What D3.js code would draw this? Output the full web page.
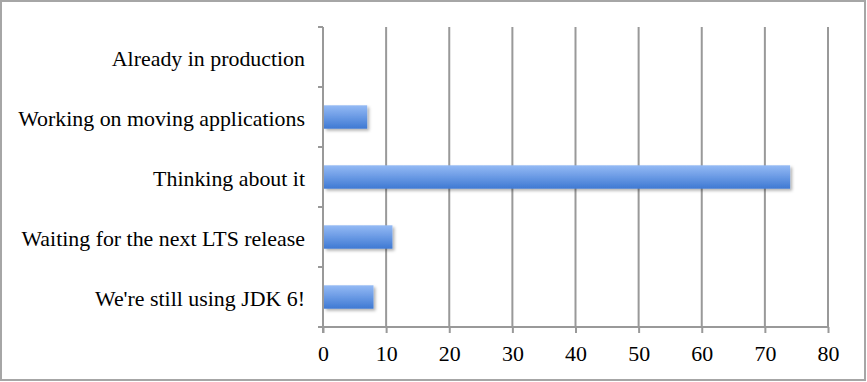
<!DOCTYPE html>
<html>
<head>
<meta charset="utf-8">
<script src="https://cdn.jsdelivr.net/npm/d3@7"></script>
<style>
  html, body { margin: 0; padding: 0; background: #fff; }
  svg { display: block; }
</style>
</head>
<body>
<svg id="chart" width="867" height="382"></svg>
<script>
const categories = [
  "Already in production",
  "Working on moving applications",
  "Thinking about it",
  "Waiting for the next LTS release",
  "We're still using JDK 6!"
];
const values = [0, 7, 74, 11, 8];
const xTicks = [0, 10, 20, 30, 40, 50, 60, 70, 80];

const W = 867, H = 382;
const margin = { left: 323, right: 39, top: 27, bottom: 55 };
const svg = d3.select("#chart");
const fontFamily = "'Liberation Serif', 'Times New Roman', serif";

const defs = svg.append("defs");
const grad = defs.append("linearGradient").attr("id", "barGrad")
  .attr("x1", 0).attr("y1", 0).attr("x2", 0).attr("y2", 1);
grad.append("stop").attr("offset", "0%").attr("stop-color", "#94baf5");
grad.append("stop").attr("offset", "100%").attr("stop-color", "#3f79d3");
const filt = defs.append("filter").attr("id", "shadow")
  .attr("x", "-10%").attr("y", "-30%").attr("width", "130%").attr("height", "180%");
filt.append("feDropShadow").attr("dx", 2).attr("dy", 2).attr("stdDeviation", 1.5)
  .attr("flood-color", "#000").attr("flood-opacity", 0.3);

// outer border
svg.append("rect").attr("x", 1).attr("y", 1).attr("width", W - 3).attr("height", H - 3)
  .attr("fill", "#fff").attr("stroke", "#a6a6a6").attr("stroke-width", 2);

const x = d3.scaleLinear().domain([0, 80]).range([margin.left, W - margin.right]);
const y = d3.scaleBand().domain(categories).range([margin.top, H - margin.bottom]).paddingInner(0).paddingOuter(0);

// gridlines
svg.append("g").selectAll("line").data(xTicks.slice(1)).join("line")
  .attr("x1", d => x(d)).attr("x2", d => x(d))
  .attr("y1", margin.top).attr("y2", H - margin.bottom)
  .attr("stroke", "#999").attr("stroke-width", 2);

// bars
const barH = y.bandwidth() * 0.39;
svg.append("g").selectAll("rect").data(categories).join("rect")
  .attr("x", x(0) + 1)
  .attr("y", d => y(d) + (y.bandwidth() - barH) / 2)
  .attr("width", (d, i) => Math.max(0, x(values[i]) - x(0) - 1))
  .attr("height", barH)
  .attr("fill", "url(#barGrad)")
  .attr("filter", "url(#shadow)");

// x axis
const xAxis = d3.axisBottom(x).tickValues(xTicks).tickSize(6).tickPadding(8).tickFormat(d3.format("d"));
const gx = svg.append("g").attr("transform", `translate(0,${H - margin.bottom})`).call(xAxis);
gx.select(".domain").attr("stroke", "#999").attr("stroke-width", 2)
  .attr("d", `M${x(0)},0H${x(80)}`);
gx.selectAll(".tick line").attr("stroke", "#999").attr("stroke-width", 2);
gx.selectAll(".tick text").attr("fill", "#000").attr("font-family", fontFamily).attr("font-size", 19).attr("dy", "0.9em");

// y axis
const yAxis = d3.axisLeft(y).tickSize(0).tickPadding(18);
const gy = svg.append("g").attr("transform", `translate(${margin.left},0)`).call(yAxis);
gy.select(".domain").remove();
gy.selectAll(".tick text").attr("fill", "#000").attr("font-family", fontFamily).attr("font-size", 19).attr("dy", "0.4em");
// category boundary ticks
const bounds = categories.map(c => y(c)).concat([H - margin.bottom]);
svg.append("g").selectAll("line").data(bounds).join("line")
  .attr("x1", margin.left - 5).attr("x2", margin.left)
  .attr("y1", d => d).attr("y2", d => d)
  .attr("stroke", "#999").attr("stroke-width", 2);
svg.append("line").attr("x1", margin.left).attr("x2", margin.left)
  .attr("y1", margin.top).attr("y2", H - margin.bottom + 6)
  .attr("stroke", "#999").attr("stroke-width", 2);

// fit label font width to reference (Cambria-like width)
const longest = gy.selectAll(".tick text").filter(d => d === "Working on moving applications").node();
const w = longest.getComputedTextLength();
const fs = 19 * 287 / w;
gy.selectAll(".tick text").attr("font-size", fs);
gx.selectAll(".tick text").attr("font-size", fs);
</script>
</body>
</html>
